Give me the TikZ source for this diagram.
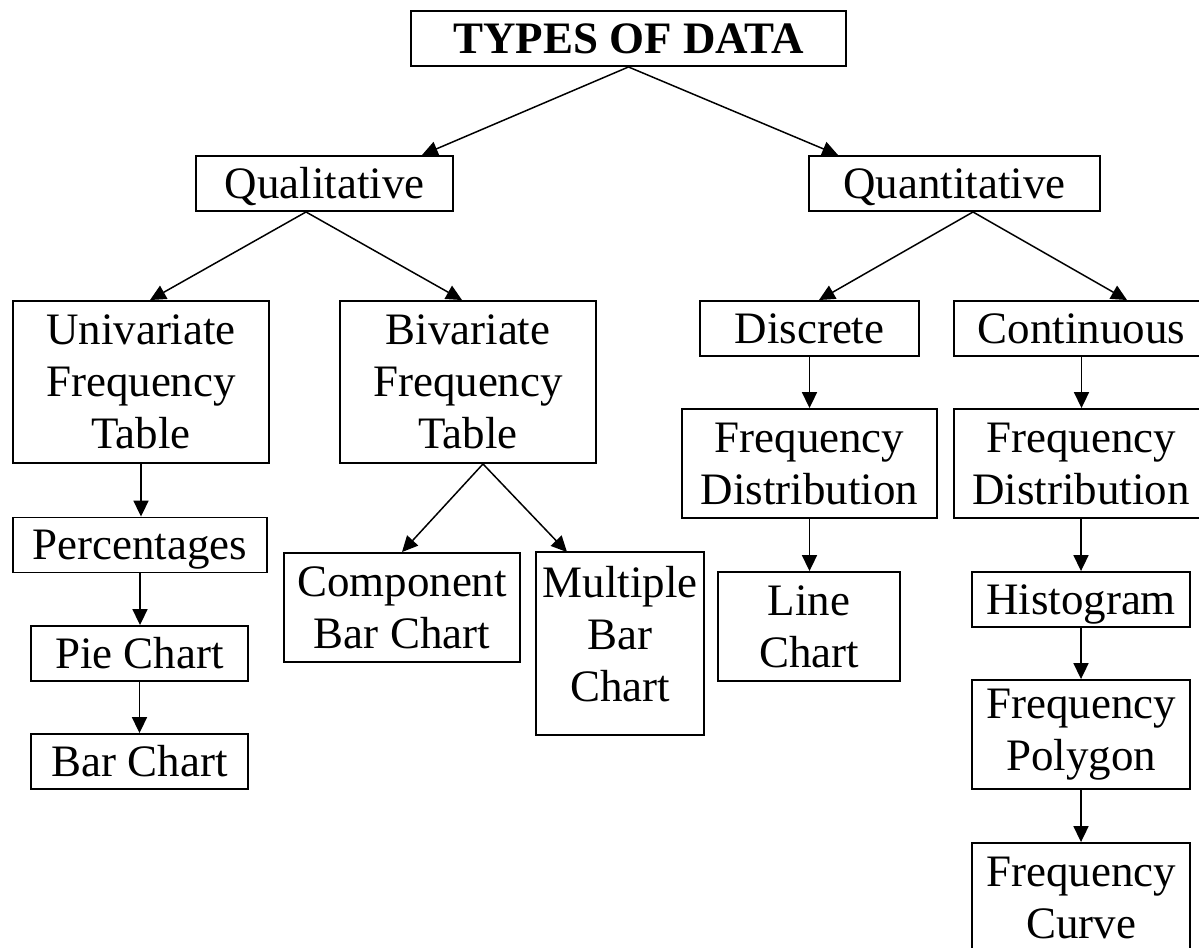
\documentclass[tikz,border=0pt]{standalone}
\usepackage{fontspec}
\setmainfont{Liberation Serif}
\usetikzlibrary{arrows.meta}
\newcommand*{\boxfont}{\fontsize{25.6}{29.6}\selectfont}
\tikzset{
	box/.style={draw,line width=1.1pt,inner sep=0pt,align=center,font=\boxfont,minimum height=1.1cm},
	onebox/.style={box,text height=0.84cm,text depth=0.26cm},
	link/.style={line width=0.85pt,-{Triangle[length=9pt,width=8.5pt]}}
}
\begin{document}
\begin{tikzpicture}[x=0.02cm,y=-0.02cm]
	\useasboundingbox (0,0) rectangle (1199,947);
	% top row
	\node[onebox,minimum width=8.7cm,font=\bfseries\boxfont] (data) at (628.5,38.5) {TYPES OF DATA};
	\node[onebox,minimum width=5.14cm] (qual) at (324.5,183.5) {Qualitative};
	\node[onebox,minimum width=5.82cm] (quant) at (954.5,183.5) {Quantitative};
	% qualitative side
	\node[box,minimum width=5.12cm,minimum height=3.24cm] (univ) at (141,382) {Univariate\\Frequency\\Table};
	\node[box,minimum width=5.12cm,minimum height=3.24cm] (biv) at (468,382) {Bivariate\\Frequency\\Table};
	\node[onebox,minimum width=5.08cm] (perc) at (140,545) {Percentages};
	\node[onebox,minimum width=4.34cm] (pie) at (139.5,653.5) {Pie Chart};
	\node[onebox,minimum width=4.34cm] (bar) at (139.5,761.5) {Bar Chart};
	\node[box,minimum width=4.72cm,minimum height=2.18cm] (comp) at (402,607.5) {Component\\Bar Chart};
	\node[box,draw=none,minimum width=3.32cm,minimum height=3.24cm] (mult) at (620,634) {Multiple\\Bar\\Chart};
	\draw[line width=1.1pt] (mult.north west) rectangle ([yshift=-0.38cm]mult.south east);
	% quantitative side
	\node[onebox,minimum width=4.38cm] (disc) at (809.5,328.5) {Discrete};
	\node[onebox,minimum width=5.1cm] (cont) at (1081.5,328.5) {Continuous};
	\node[box,minimum width=5.1cm,minimum height=2.18cm] (fdd) at (809.5,463.5) {Frequency\\Distribution};
	\node[box,minimum width=5.08cm,minimum height=2.18cm] (fdc) at (1081,463.5) {Frequency\\Distribution};
	\node[box,minimum width=3.64cm,minimum height=2.18cm] (line) at (809,626.5) {Line\\Chart};
	\node[onebox,minimum width=4.36cm] (hist) at (1081,599.5) {Histogram};
	\node[box,minimum width=4.36cm,minimum height=2.18cm] (poly) at (1081,734.5) {Frequency\\Polygon};
	\node[box,minimum width=4.36cm,minimum height=2.18cm] (curve) at (1081,897.5) {Frequency\\Curve};
	% links
	\draw[link] (data.south) -- ([xshift=1.95cm]qual.north);
	\draw[link] (data.south) -- ([xshift=-2.33cm]quant.north);
	\draw[link] ([xshift=-0.37cm]qual.south) -- ([xshift=0.18cm]univ.north);
	\draw[link] ([xshift=-0.37cm]qual.south) -- ([xshift=-0.12cm]biv.north);
	\draw[link] ([xshift=0.37cm]quant.south) -- ([xshift=0.19cm]disc.north);
	\draw[link] ([xshift=0.37cm]quant.south) -- ([xshift=0.91cm]cont.north);
	\draw[link] ([xshift=0.3cm]biv.south) -- (comp.north);
	\draw[link] ([xshift=0.3cm]biv.south) -- ([xshift=-1.06cm]mult.north);
	\foreach \a/\b in {univ/perc,perc/pie,pie/bar,disc/fdd,fdd/line,cont/fdc,fdc/hist,hist/poly,poly/curve}
		\draw[link] (\a.south) -- (\a.south |- \b.north);
\end{tikzpicture}
\end{document}
